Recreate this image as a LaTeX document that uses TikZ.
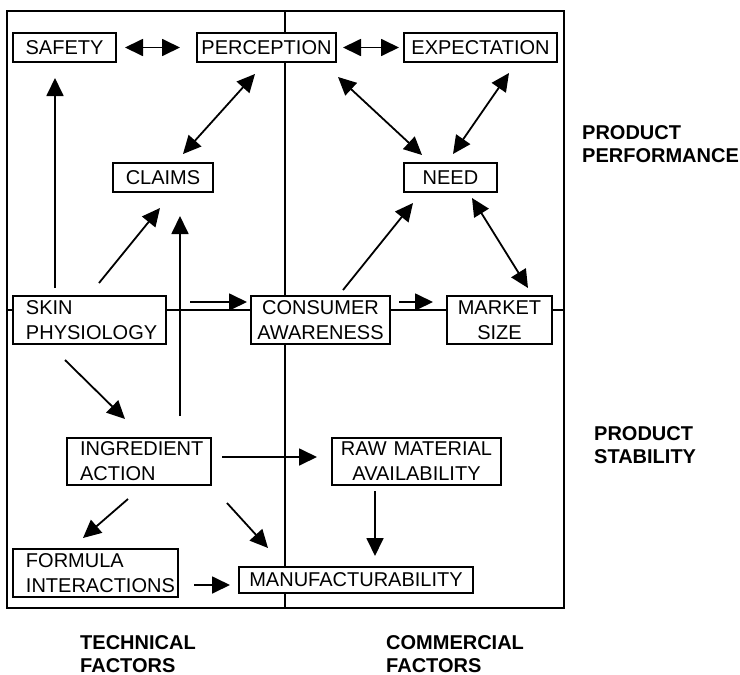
\documentclass[tikz,border=0pt]{standalone}
\usepackage{fontspec}
\setmainfont{Liberation Sans}
\usetikzlibrary{arrows.meta,calc}
\begin{document}
\begin{tikzpicture}[x=1pt,y=-1pt,
  box/.style={draw,line width=1.9pt,fill=white,inner ysep=0pt,outer sep=0pt,minimum height=#1,
    font=\fontsize{20}{25}\selectfont},
  box/.default=29pt,
  lbox/.style={box=#1,anchor=north west,align=left,inner xsep=13pt},
  cbox/.style={box=#1,anchor=north west,align=center,inner xsep=0pt},
  arr/.style={line width=1.8pt,-{Triangle[length=18pt,width=17pt]}},
  darr/.style={line width=1.8pt,{Triangle[length=18pt,width=17pt]}-{Triangle[length=18pt,width=17pt]}},
  frame/.style={line width=2pt},
  lab/.style={anchor=north west,inner sep=0pt,align=left,font=\bfseries\fontsize{20}{23}\selectfont}]
\useasboundingbox (0,0) rectangle (740,675);
% frame
\draw[frame] (7,11) rectangle (564,608);
\draw[frame] (285,11) -- (285,608);
\draw[frame] (7,310) -- (564,310);
% nodes
\node[cbox, text width=103pt] (safety) at (13,33) {SAFETY};
\node[cbox, text width=139pt] (perc) at (197,33) {PERCEPTION};
\node[cbox, text width=153pt] (exp) at (404,33) {EXPECTATION};
\node[cbox, text width=100pt] (claims) at (113,163) {CLAIMS};
\node[cbox, text width=93pt] (need) at (404,163) {NEED};
\node[lbox=48pt, text width=127pt] (skin) at (13,296) {SKIN\\PHYSIOLOGY};
\node[cbox=48pt, text width=139pt] (cons) at (251,296) {CONSUMER\\AWARENESS};
\node[cbox=48pt, text width=105pt] (market) at (447,296) {MARKET\\SIZE};
\node[lbox=47pt, text width=118pt] (ing) at (67,438) {INGREDIENT\\ACTION};
\node[cbox=47pt, text width=169pt] (raw) at (332,438) {RAW MATERIAL\\AVAILABILITY};
\node[lbox=48pt, text width=139pt] (formula) at (13,549) {FORMULA\\INTERACTIONS};
\node[cbox=26pt, text width=234pt] (manuf) at (239,567) {MANUFACTURABILITY};
% outside labels
\node[lab] (pp) at (582,125) {PRODUCT\\PERFORMANCE};
\node[lab] (ps) at (594,426) {PRODUCT\\STABILITY};
\node[lab] (tf) at (80,635) {TECHNICAL\\FACTORS};
\node[lab] (cf) at (386,635) {COMMERCIAL\\FACTORS};
% connectors
\draw[darr] ($(safety.east)+(9,0)$) -- ($(perc.west)+(-17,0)$);
\draw[darr] ($(perc.east)+(7,0)$) -- ($(exp.west)+(-5,0)$);
\draw[darr] ($(perc.south)+(-11.5,12)$) -- ($(claims.north)+(20,-9)$);
\draw[darr] ($(perc.south east)+(2,15)$) -- ($(need.north)+(-28.5,-8)$);
\draw[darr] ($(exp.south)+(28.5,11)$) -- ($(need.north)+(2.5,-9)$);
\draw[arr] ($(skin.north west)+(42,-8)$) -- ($(safety.south west)+(42,16)$);
\draw[arr] ($(skin.north west)+(86,-13)$) -- ($(claims.south west)+(47,16)$);
\draw[arr] ($(ing.north east)+(-31,-22)$) -- ($(claims.south east)+(-33,24)$);
\draw[arr] ($(skin.east)+(24,-18)$) -- ($(cons.west)+(-4,-18)$);
\draw[arr] ($(cons.east)+(9,-18)$) -- ($(market.west)+(-14,-18)$);
\draw[arr] ($(cons.north)+(22.5,-6)$) -- ($(need.south west)+(9,11)$);
\draw[darr] ($(need.south east)+(-25,6)$) -- ($(market.north east)+(-24,-8)$);
\draw[arr] ($(skin.south west)+(52,16)$) -- ($(ing.north west)+(58,-19)$);
\draw[arr] ($(ing.east)+(11,-4.5)$) -- ($(raw.west)+(-15,-4.5)$);
\draw[arr] ($(ing.south west)+(61,14)$) -- ($(formula.north west)+(70,-11)$);
\draw[arr] ($(ing.south east)+(16,18)$) -- ($(manuf.north west)+(29,-19)$);
\draw[arr] ($(formula.east)+(16,12)$) -- ($(manuf.west)+(-9,5)$);
\draw[arr] ($(raw.south)+(-41.5,6)$) -- ($(manuf.north)+(19,-11)$);
\end{tikzpicture}
\end{document}
